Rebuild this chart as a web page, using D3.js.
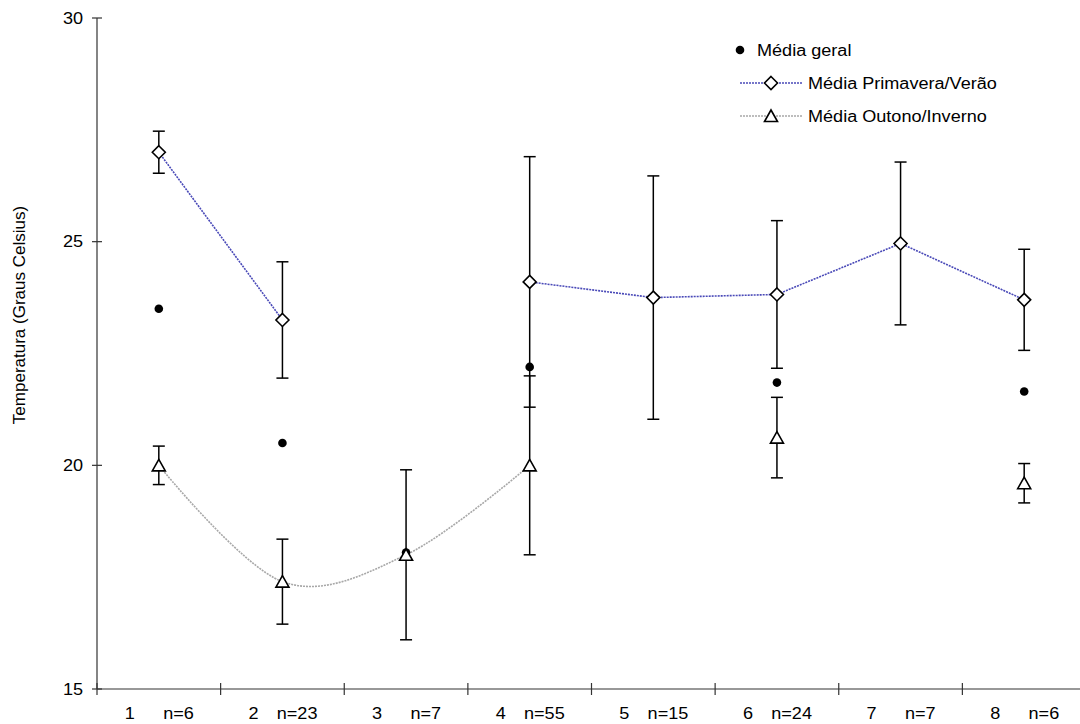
<!DOCTYPE html>
<html>
<head>
<meta charset="utf-8">
<script src="https://cdn.jsdelivr.net/npm/d3@7"></script>
<style>
  body { margin: 0; background: #fff; }
  text { font-family: "Liberation Sans", Arial, sans-serif; fill: #000; }
</style>
</head>
<body>
<svg id="chart" width="1080" height="724"></svg>
<script>
// chart values
const categories = ["1", "2", "3", "4", "5", "6", "7", "8"];
const nLabels = ["n=6", "n=23", "n=7", "n=55", "n=15", "n=24", "n=7", "n=6"];
const yTicks = [15, 20, 25, 30];

const mediaGeral = [23.5, 20.5, 18.05, 22.2, 23.75, 21.85, 24.96, 21.65];
const mediaPrimavera = [27.0, 23.25, null, 24.1, 23.75, 23.82, 24.96, 23.7];
const erroPrimavera = [0.47, 1.3, null, 2.8, 2.72, 1.65, 1.82, 1.13];
const mediaOutono = [20.0, 17.4, 18.0, 20.0, null, 20.62, null, 19.6];
const erroOutono = [0.43, 0.95, 1.9, 2.0, null, 0.9, null, 0.44];

const legendLabels = ["Média geral", "Média Primavera/Verão", "Média Outono/Inverno"];

const svg = d3.select("#chart");
const margin = {top: 18, right: -6, bottom: 35, left: 97};
const width = +svg.attr("width") - margin.left - margin.right,
      height = +svg.attr("height") - margin.top - margin.bottom;

const g = svg.append("g").attr("transform", "translate(" + margin.left + "," + margin.top + ")");

const x = d3.scaleBand().domain(categories).range([0, width]).padding(0);
const y = d3.scaleLinear().domain([15, 30]).range([height, 0]);
const cx = i => x(categories[i]) + x.bandwidth() / 2;

const springColor = "#4a4ab8";
const autumnColor = "#a8a8a8";
const stretch = 1.13; // the original text is a little wide for its height

// places text at (px,py), widened a bit
function label(sel, px, py) {
  return sel.attr("transform", (d, i) => "translate(" + px(d, i) + "," + py(d, i) + ") scale(" + stretch + ",1)");
}

// y axis
g.append("line").attr("x1", 0).attr("x2", 0).attr("y1", 0).attr("y2", height)
  .attr("stroke", "#333").attr("stroke-width", 1.2);
g.selectAll(".ytick").data(yTicks).enter().append("line")
  .attr("x1", -5).attr("x2", 5)
  .attr("y1", d => y(d)).attr("y2", d => y(d))
  .attr("stroke", "#333").attr("stroke-width", 1.2);
label(g.selectAll(".ylab").data(yTicks).enter().append("text"), () => -14, d => y(d))
  .attr("dy", "0.35em").attr("text-anchor", "end").style("font-size", "16px")
  .text(d => d);

// x axis
g.append("line").attr("x1", 0).attr("x2", width).attr("y1", height).attr("y2", height)
  .attr("stroke", "#333").attr("stroke-width", 1.2);
g.selectAll(".xtick").data(categories).enter().append("line")
  .attr("x1", d => x(d)).attr("x2", d => x(d))
  .attr("y1", height - 6).attr("y2", height + 6)
  .attr("stroke", "#333").attr("stroke-width", 1.2);
label(g.selectAll(".xnum").data(categories).enter().append("text"), (d, i) => cx(i) - 29, () => height + 30)
  .attr("text-anchor", "middle").style("font-size", "16px")
  .text(d => d);
label(g.selectAll(".xn").data(nLabels).enter().append("text"), (d, i) => cx(i) + 35, () => height + 30)
  .attr("text-anchor", "end").style("font-size", "16px")
  .text(d => d);

// y axis title
svg.append("text")
  .attr("transform", "translate(25,315) rotate(-90)")
  .attr("text-anchor", "middle").style("font-size", "17px")
  .text("Temperatura (Graus Celsius)");

// lines: autumn is smoothed, spring is straight
const springLine = d3.line()
  .defined(d => d.v != null)
  .x(d => cx(d.i)).y(d => y(d.v));
const autumnLine = d3.line()
  .defined(d => d.v != null)
  .x(d => cx(d.i)).y(d => y(d.v))
  .curve(d3.curveCatmullRom.alpha(0));

const springPts = mediaPrimavera.map((v, i) => ({i: i, v: v}));
const autumnPts = mediaOutono.map((v, i) => ({i: i, v: v}));

g.append("path").datum(autumnPts).attr("d", autumnLine)
  .attr("fill", "none").attr("stroke", autumnColor)
  .attr("stroke-width", 1.6).attr("stroke-dasharray", "2,1");
g.append("path").datum(springPts).attr("d", springLine)
  .attr("fill", "none").attr("stroke", springColor)
  .attr("stroke-width", 1.6).attr("stroke-dasharray", "2,1");

// error bars
function errorBars(values, errors) {
  const data = values.map((v, i) => ({i: i, v: v, e: errors[i]})).filter(d => d.v != null);
  const eb = g.append("g").attr("stroke", "#000").attr("stroke-width", 1.5);
  data.forEach(d => {
    const top = y(d.v + d.e), bot = y(d.v - d.e), px = cx(d.i);
    eb.append("line").attr("x1", px).attr("x2", px).attr("y1", top).attr("y2", bot);
    eb.append("line").attr("x1", px - 6).attr("x2", px + 6).attr("y1", top).attr("y2", top);
    eb.append("line").attr("x1", px - 6).attr("x2", px + 6).attr("y1", bot).attr("y2", bot);
  });
}
errorBars(mediaPrimavera, erroPrimavera);
errorBars(mediaOutono, erroOutono);

// markers
const diamond = "M0,-6.5L6.5,0L0,6.5L-6.5,0Z";
const triangle = "M0,-6L6.5,5.5L-6.5,5.5Z";

g.selectAll(".dot").data(mediaGeral).enter().append("circle")
  .attr("cx", (d, i) => cx(i)).attr("cy", d => y(d)).attr("r", 4.3)
  .attr("fill", "#000");

g.selectAll(".dia").data(springPts.filter(d => d.v != null)).enter().append("path")
  .attr("d", diamond)
  .attr("transform", d => "translate(" + cx(d.i) + "," + y(d.v) + ")")
  .attr("fill", "#fff").attr("stroke", "#000").attr("stroke-width", 1.6);

g.selectAll(".tri").data(autumnPts.filter(d => d.v != null)).enter().append("path")
  .attr("d", triangle)
  .attr("transform", d => "translate(" + cx(d.i) + "," + y(d.v) + ")")
  .attr("fill", "#fff").attr("stroke", "#000").attr("stroke-width", 1.6);

// legend
const lg = svg.append("g");
const rowY = [50, 83, 116];
lg.append("circle").attr("cx", 740).attr("cy", rowY[0]).attr("r", 4.3).attr("fill", "#000");
label(lg.append("text"), () => 757, () => rowY[0])
  .attr("dy", "0.35em").style("font-size", "16px").text(legendLabels[0]);

[[springColor, diamond], [autumnColor, triangle]].forEach((s, k) => {
  const ry = rowY[k + 1];
  lg.append("line").attr("x1", 740).attr("x2", 803).attr("y1", ry).attr("y2", ry)
    .attr("stroke", s[0]).attr("stroke-width", 1.6).attr("stroke-dasharray", "2,1");
  lg.append("path").attr("d", s[1]).attr("transform", "translate(771," + ry + ")")
    .attr("fill", "#fff").attr("stroke", "#000").attr("stroke-width", 1.6);
  label(lg.append("text"), () => 808, () => ry)
    .attr("dy", "0.35em").style("font-size", "16px").text(legendLabels[k + 1]);
});
</script>
</body>
</html>
